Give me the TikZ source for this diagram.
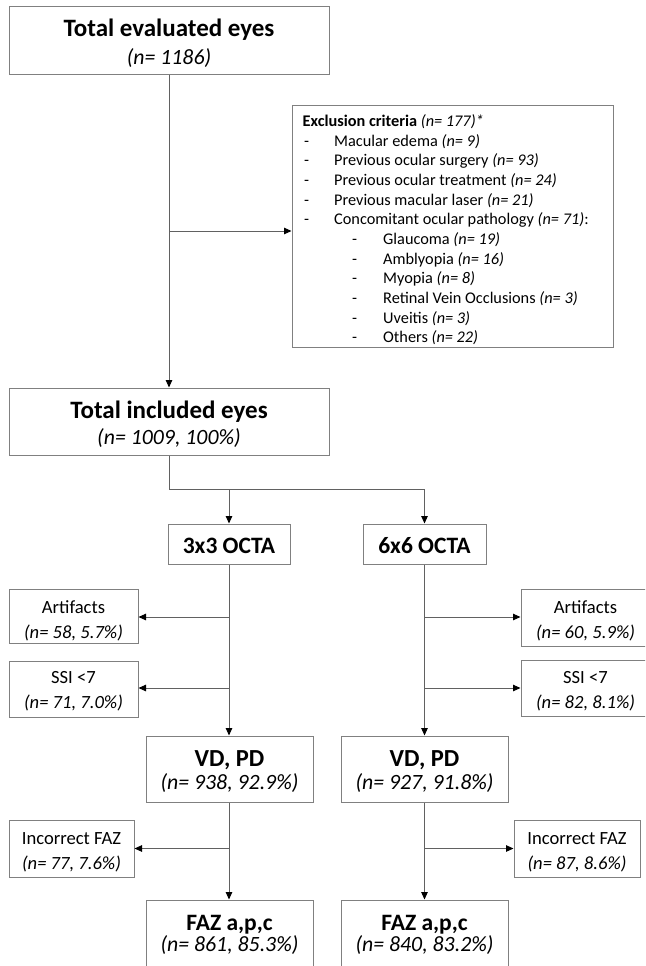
\documentclass[tikz,border=0pt]{standalone}
\usepackage{fontspec}
\setmainfont{Carlito}
\usetikzlibrary{arrows.meta}
\begin{document}
\begin{tikzpicture}[x=1pt,y=-1pt,
  box/.style={draw=black!50, line width=1pt, rectangle, inner sep=0pt},
  conn/.style={draw=black!62, line width=1pt},
  arr/.style={conn, -{Triangle[length=7.5pt,width=6.5pt,color=black]}},
  ttl/.style={anchor=base, inner sep=0pt, font=\fontsize{25}{30}\selectfont\bfseries},
  sttl/.style={anchor=base, inner sep=0pt, font=\fontsize{23.5}{28}\selectfont\bfseries},
  bign/.style={anchor=base, inner sep=0pt, font=\fontsize{21.8}{26}\selectfont\itshape},
  sml/.style={anchor=base, inner sep=0pt, font=\fontsize{18.6}{22}\selectfont},
  exl/.style={anchor=base west, inner sep=0pt, font=\fontsize{16.3}{20}\selectfont}
]
\useasboundingbox (0,0) rectangle (645,966);
\clip (0,0) rectangle (645,966);

% top box
\node[box, minimum width=320pt, minimum height=67pt] (top) at (169,40.5) {};
\node[ttl] (topT) at (169,37) {Total evaluated eyes};
\node[bign] (topN) at (169,64.5) {(n= 1186)};

% exclusion box
\node[box, minimum width=321pt, minimum height=242pt] (excl) at (452.5,226) {};
\node[exl] (e0) at (302.5,126.5) {\textbf{Exclusion criteria} \textit{(n= 177)*}};
\node[exl] (d1) at (304,146.2) {-};
\node[exl] (e1) at (334,146.2) {Macular edema \textit{(n= 9)}};
\node[exl] (d2) at (304,165.8) {-};
\node[exl] (e2) at (334,165.8) {Previous ocular surgery \textit{(n= 93)}};
\node[exl] (d3) at (304,185.5) {-};
\node[exl] (e3) at (334,185.5) {Previous ocular treatment \textit{(n= 24)}};
\node[exl] (d4) at (304,205.1) {-};
\node[exl] (e4) at (334,205.1) {Previous macular laser \textit{(n= 21)}};
\node[exl] (d5) at (304,224.8) {-};
\node[exl] (e5) at (334,224.8) {Concomitant ocular pathology \textit{(n= 71)}:};
\node[exl] (d6) at (352,244.4) {-};
\node[exl] (e6) at (383,244.4) {Glaucoma \textit{(n= 19)}};
\node[exl] (d7) at (352,264.1) {-};
\node[exl] (e7) at (383,264.1) {Amblyopia \textit{(n= 16)}};
\node[exl] (d8) at (352,283.7) {-};
\node[exl] (e8) at (383,283.7) {Myopia \textit{(n= 8)}};
\node[exl] (d9) at (352,303.4) {-};
\node[exl] (e9) at (383,303.4) {Retinal Vein Occlusions \textit{(n= 3)}};
\node[exl] (d10) at (352,323) {-};
\node[exl] (e10) at (383,323) {Uveitis \textit{(n= 3)}};
\node[exl] (d11) at (352,342.7) {-};
\node[exl] (e11) at (383,342.7) {Others \textit{(n= 22)}};

% included box
\node[box, minimum width=320pt, minimum height=67pt] (incl) at (169,421.5) {};
\node[ttl] (inclT) at (169,418) {Total included eyes};
\node[bign] (inclN) at (169,444.5) {(n= 1009, 100\%)};

% OCTA boxes
\node[box, minimum width=122pt, minimum height=40pt] (oct3) at (229,544) {};
\node[sttl] (oct3T) at (229,553.5) {3x3 OCTA};
\node[box, minimum width=123pt, minimum height=40pt] (oct6) at (424.5,544) {};
\node[sttl] (oct6T) at (424.5,553.5) {6x6 OCTA};

% left exclusions
\node[box, minimum width=129pt, minimum height=54pt] (artL) at (73.5,616.3) {};
\node[sml] (artLT) at (73.5,613) {Artifacts};
\node[sml, font=\fontsize{18.6}{22}\selectfont\itshape] (artLN) at (73.5,638) {(n= 58, 5.7\%)};
\node[box, minimum width=129pt, minimum height=56pt] (ssiL) at (73.5,689) {};
\node[sml] (ssiLT) at (73.5,683.5) {SSI <7};
\node[sml, font=\fontsize{18.6}{22}\selectfont\itshape] (ssiLN) at (73.5,708) {(n= 71, 7.0\%)};

% right exclusions
\node[box, minimum width=129pt, minimum height=57pt] (artR) at (585.5,617.5) {};
\node[sml] (artRT) at (585.5,613) {Artifacts};
\node[sml, font=\fontsize{18.6}{22}\selectfont\itshape] (artRN) at (585.5,638) {(n= 60, 5.9\%)};
\node[box, minimum width=129pt, minimum height=56pt] (ssiR) at (585.5,688) {};
\node[sml] (ssiRT) at (585.5,683.5) {SSI <7};
\node[sml, font=\fontsize{18.6}{22}\selectfont\itshape] (ssiRN) at (585.5,708) {(n= 82, 8.1\%)};

% VD PD boxes
\node[box, minimum width=167pt, minimum height=66pt] (vd3) at (229.5,769) {};
\node[ttl, font=\fontsize{24.5}{29}\selectfont\bfseries] (vd3T) at (229.5,766) {VD, PD};
\node[bign] (vd3N) at (229.5,789.5) {(n= 938, 92.9\%)};
\node[box, minimum width=167pt, minimum height=66pt] (vd6) at (424.5,769) {};
\node[ttl, font=\fontsize{24.5}{29}\selectfont\bfseries] (vd6T) at (424.5,766) {VD, PD};
\node[bign] (vd6N) at (424.5,789.5) {(n= 927, 91.8\%)};

% incorrect FAZ
\node[box, minimum width=125pt, minimum height=57pt] (fazL) at (71.5,848.5) {};
\node[sml] (fazLT) at (71.5,844) {Incorrect FAZ};
\node[sml, font=\fontsize{18.6}{22}\selectfont\itshape] (fazLN) at (71.5,869) {(n= 77, 7.6\%)};
\node[box, minimum width=126pt, minimum height=57pt] (fazR) at (577,848.5) {};
\node[sml] (fazRT) at (577,844) {Incorrect FAZ};
\node[sml, font=\fontsize{18.6}{22}\selectfont\itshape] (fazRN) at (577,869) {(n= 87, 8.6\%)};

% FAZ boxes
\node[box, minimum width=167pt, minimum height=72pt] (faz3) at (229.5,936) {};
\node[sttl] (faz3T) at (229.5,930) {FAZ a,p,c};
\node[bign] (faz3N) at (229.5,951) {(n= 861, 85.3\%)};
\node[box, minimum width=167pt, minimum height=72pt] (faz6) at (424.5,936) {};
\node[sttl] (faz6T) at (424.5,930) {FAZ a,p,c};
\node[bign] (faz6N) at (424.5,951) {(n= 840, 83.2\%)};

% connectors
\draw[arr] (top.south) -- (incl.north);
\coordinate (bx) at (169,231);
\draw[arr] (bx) -- (bx -| excl.west);

\coordinate (sp) at (169,489);
\coordinate (sp3) at (229,489);
\coordinate (sp6) at (424.5,489);
\draw[conn] (incl.south) -- (sp) -- (sp6);
\draw[arr] (sp3) -- (oct3.north);
\draw[arr] (sp6) -- (oct6.north);

\draw[arr] (oct3.south) -- (vd3.north -| oct3.south);
\coordinate (a3) at (229,617);
\coordinate (s3) at (229,688);
\draw[arr] (a3) -- (a3 -| artL.east);
\draw[arr] (s3) -- (s3 -| ssiL.east);

\draw[arr] (oct6.south) -- (vd6.north);
\coordinate (a6) at (424.5,617);
\coordinate (s6) at (424.5,688);
\draw[arr] (a6) -- (a6 -| artR.west);
\draw[arr] (s6) -- (s6 -| ssiR.west);

\draw[arr] (vd3.south -| oct3.south) -- (faz3.north -| oct3.south);
\coordinate (f3) at (229,848.5);
\draw[arr] (f3) -- (f3 -| fazL.east);
\draw[arr] (vd6.south) -- (faz6.north);
\coordinate (f6) at (424.5,848.5);
\draw[arr] (f6) -- (f6 -| fazR.west);
\end{tikzpicture}
\end{document}
